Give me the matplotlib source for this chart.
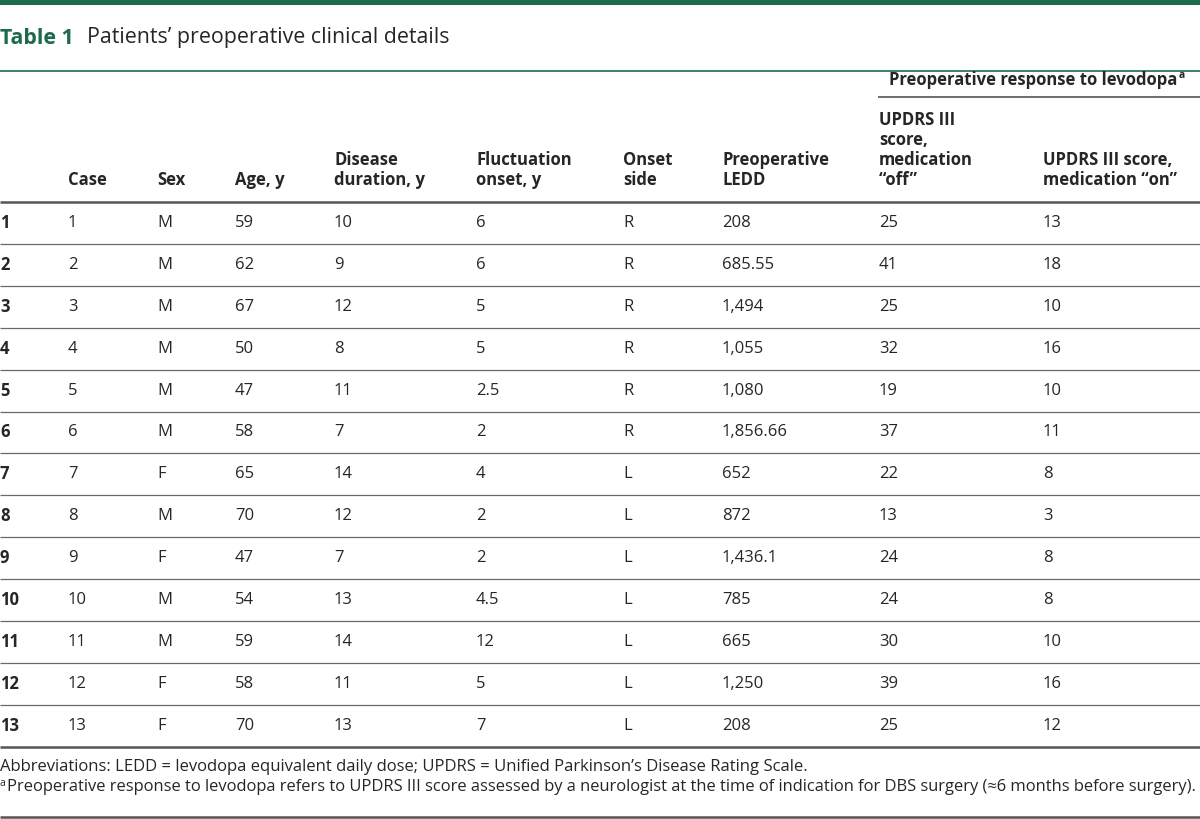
import matplotlib
matplotlib.use("Agg")
import matplotlib.pyplot as plt

# table content
row_ids = ["1", "2", "3", "4", "5", "6", "7", "8", "9", "10", "11", "12", "13"]
case = ["1", "2", "3", "4", "5", "6", "7", "8", "9", "10", "11", "12", "13"]
sex = ["M", "M", "M", "M", "M", "M", "F", "M", "F", "M", "M", "F", "F"]
age = ["59", "62", "67", "50", "47", "58", "65", "70", "47", "54", "59", "58", "70"]
duration = ["10", "9", "12", "8", "11", "7", "14", "12", "7", "13", "14", "11", "13"]
fluct_onset = ["6", "6", "5", "5", "2.5", "2", "4", "2", "2", "4.5", "12", "5", "7"]
onset_side = ["R", "R", "R", "R", "R", "R", "L", "L", "L", "L", "L", "L", "L"]
ledd = ["208", "685.55", "1,494", "1,055", "1,080", "1,856.66", "652", "872",
        "1,436.1", "785", "665", "1,250", "208"]
updrs_off = ["25", "41", "25", "32", "19", "37", "22", "13", "24", "24", "30", "39", "25"]
updrs_on = ["13", "18", "10", "16", "10", "11", "8", "3", "8", "8", "10", "16", "12"]

headers = ["Case", "Sex", "Age, y", "Disease\nduration, y", "Fluctuation\nonset, y",
           "Onset\nside", "Preoperative\nLEDD", "UPDRS III\nscore,\nmedication\n\u201coff\u201d",
           "UPDRS III score,\nmedication \u201con\u201d"]
group_label = "Preoperative response to levodopa"
title_bold = "Table 1"
title_text = "Patients\u2019 preoperative clinical details"
note1 = "Abbreviations: LEDD = levodopa equivalent daily dose; UPDRS = Unified Parkinson\u2019s Disease Rating Scale."
note2 = ("Preoperative response to levodopa refers to UPDRS III score assessed by a neurologist "
         "at the time of indication for DBS surgery (\u22486 months before surgery).")

GREEN = "#1d6b4b"
TEXT = "#262626"
RULE = "#555555"
FONT = ["Open Sans", "DejaVu Sans"]

col_x = [68, 157, 235, 334, 476, 623, 722, 879, 1043]
columns = [case, sex, age, duration, fluct_onset, onset_side, ledd, updrs_off, updrs_on]

fig = plt.figure(figsize=(12, 8.19), dpi=100)
ax = fig.add_axes([0, 0, 1, 1])
ax.set_xlim(0, 1200)
ax.set_ylim(819, 0)
ax.axis("off")

# top bar and title
ax.axhspan(0, 5, color=GREEN, lw=0)
ax.text(0, 38, title_bold, fontsize=15.4, fontweight="bold", color=GREEN,
        family=FONT, va="center", ha="left")
ax.text(87, 38, title_text, fontsize=15.4, color=TEXT, family=FONT, va="center", ha="left")
ax.plot([0, 1200], [71, 71], color=GREEN, lw=1.2, solid_capstyle="butt")

# group header
g = ax.text(889, 80, group_label, fontsize=12, fontweight="bold", color=TEXT,
            family=FONT, va="center", ha="left")
fig.canvas.draw()
bb = g.get_window_extent().transformed(ax.transData.inverted())
ax.text(bb.x1 + 1, 75, "a", fontsize=7.5, fontweight="bold", color=TEXT,
        family=FONT, va="center", ha="left")
ax.plot([878, 1200], [97, 97], color=RULE, lw=1.2, solid_capstyle="butt")

# column headers (bottom aligned)
for x, h in zip(col_x, headers):
    ax.text(x, 185, h, fontsize=12, fontweight="bold", color=TEXT, family=FONT,
            va="baseline", ha="left", linespacing=1.15)

ax.plot([0, 1200], [202, 202], color=RULE, lw=1.8, solid_capstyle="butt")

# body rows
row_h = 41.9
top = 202
for i, rid in enumerate(row_ids):
    yc = top + row_h * (i + 0.5)
    ax.text(0, yc, rid, fontsize=12, fontweight="bold", color=TEXT, family=FONT,
            va="center", ha="left")
    for x, col in zip(col_x, columns):
        ax.text(x, yc, col[i], fontsize=12, color=TEXT, family=FONT,
                va="center", ha="left")
    yl = top + row_h * (i + 1)
    if i < len(row_ids) - 1:
        ax.plot([0, 1200], [yl, yl], color="#6a6a6a", lw=0.9, solid_capstyle="butt")
    else:
        ax.plot([0, 1200], [yl, yl], color=RULE, lw=1.8, solid_capstyle="butt")

# footnotes
ax.text(0, 767, note1, fontsize=12, color=TEXT, family=FONT, va="center", ha="left")
ax.text(0, 783, "a", fontsize=7.5, color=TEXT, family=FONT, va="center", ha="left")
ax.text(7, 787, note2, fontsize=11.85, color=TEXT, family=FONT, va="center", ha="left")
ax.plot([0, 1200], [817, 817], color=RULE, lw=1.8, solid_capstyle="butt")

fig.savefig("out.png", dpi=100)
